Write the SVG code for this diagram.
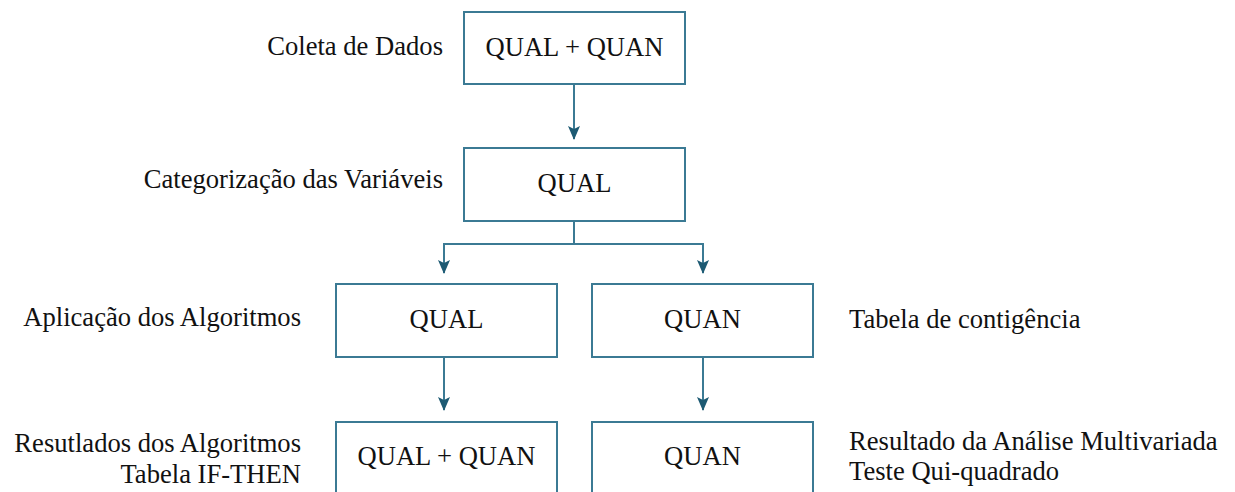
<svg xmlns="http://www.w3.org/2000/svg" width="1235" height="492" viewBox="0 0 1235 492">
<style>
.box{fill:#fff;stroke:#3B7A94;stroke-width:2}
.ln{fill:none;stroke:#3B7A94;stroke-width:2}
.t{font-family:"Liberation Serif","Times New Roman",serif;font-size:26.6px;fill:#111}
.c{text-anchor:middle}
.r{text-anchor:end}
</style>
<defs>
<marker id="ah" markerWidth="14" markerHeight="12" refX="13" refY="6" orient="auto" markerUnits="userSpaceOnUse" viewBox="0 0 14 12">
<path d="M0,0 L14,6 L0,12 L3,6 Z" fill="#1D5A73"/>
</marker>
</defs>
<rect width="1235" height="492" fill="#fff"/>
<g id="connectors">
<path class="ln" d="M574,84 V139" marker-end="url(#ah)"/>
<path class="ln" d="M574,221 V244 H444 V273" marker-end="url(#ah)"/>
<path class="ln" d="M574,244 H703 V273" marker-end="url(#ah)"/>
<path class="ln" d="M444,357 V410" marker-end="url(#ah)"/>
<path class="ln" d="M703,357 V410" marker-end="url(#ah)"/>
</g>
<g id="n1"><rect class="box" x="464" y="12" width="221" height="72"/><text class="t c" x="574.5" y="56">QUAL + QUAN</text></g>
<g id="n2"><rect class="box" x="464" y="148" width="221" height="73"/><text class="t c" x="574.5" y="192">QUAL</text></g>
<g id="n3"><rect class="box" x="336" y="284" width="221" height="73"/><text class="t c" x="446.5" y="328">QUAL</text></g>
<g id="n4"><rect class="box" x="592" y="284" width="221" height="73"/><text class="t c" x="702.5" y="328">QUAN</text></g>
<g id="n5"><rect class="box" x="336" y="422" width="221" height="73"/><text class="t c" x="446.5" y="465">QUAL + QUAN</text></g>
<g id="n6"><rect class="box" x="592" y="422" width="221" height="73"/><text class="t c" x="702.5" y="465">QUAN</text></g>
<g id="labels">
<text class="t r" x="443" y="55">Coleta de Dados</text>
<text class="t r" x="443" y="188">Categorização das Variáveis</text>
<text class="t r" x="301" y="326">Aplicação dos Algoritmos</text>
<text class="t r" x="301" y="452">Resutlados dos Algoritmos</text>
<text class="t r" x="301" y="483">Tabela IF-THEN</text>
<text class="t" x="849" y="328">Tabela de contigência</text>
<text class="t" x="849" y="450">Resultado da Análise Multivariada</text>
<text class="t" x="849" y="480">Teste Qui-quadrado</text>
</g>
</svg>
